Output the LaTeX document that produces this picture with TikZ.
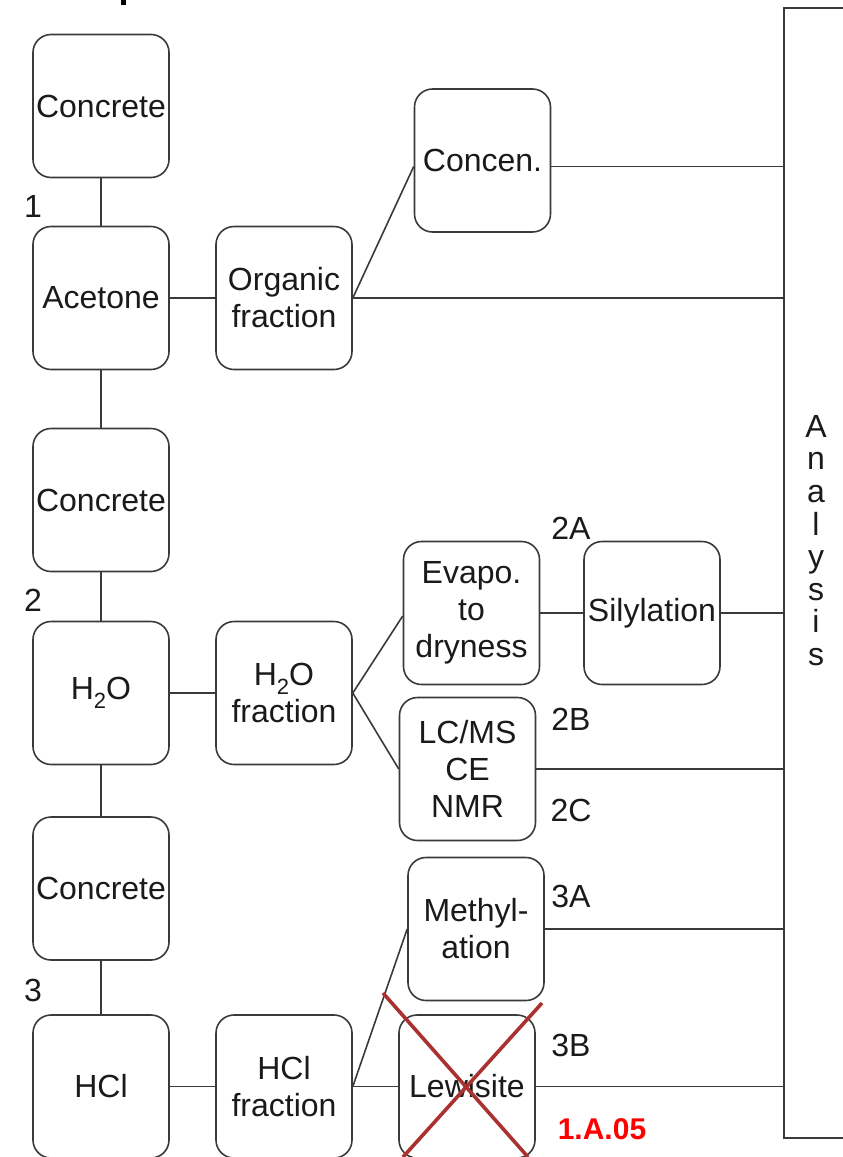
\documentclass[tikz,border=0pt]{standalone}
\usepackage{fontspec}
\setmainfont{Liberation Sans}
\usetikzlibrary{calc}
\definecolor{linec}{HTML}{3A3A3A}
\definecolor{textc}{HTML}{1A1A1A}
\definecolor{crossc}{HTML}{A93230}
\definecolor{redlbl}{HTML}{FF0000}
\newcommand{\subtwo}{\raisebox{-0.28em}{\fontsize{22}{22}\selectfont 2}}
\tikzset{
  box/.style={draw=linec, line width=1.6pt, rounded corners=18pt,
    minimum width=136pt, minimum height=143pt, inner sep=0pt,
    align=center, text=textc, font=\fontsize{32}{37}\selectfont},
  conn/.style={draw=linec, line width=1.6pt},
  lbl/.style={text=textc, inner sep=0pt, font=\fontsize{32}{37}\selectfont},
  cross/.style={draw=crossc, line width=3.6pt}
}
\begin{document}
\begin{tikzpicture}[x=1pt,y=-1pt]
\useasboundingbox (0,0) rectangle (843,1157);
% cut-off fragment at top
\fill[black] (121,0) rectangle (126,5);
% Analysis bar
\node[draw=linec, line width=1.6pt, minimum width=90pt, minimum height=1130pt, inner sep=0pt, anchor=north west] (bar) at (783,7) {};
\node[lbl, anchor=north, align=center, font=\fontsize{32}{32.6}\selectfont] (ana) at (816,415) {A\\n\\a\\l\\y\\s\\i\\s};
% left column
\node[box] (c1) at (101,106) {Concrete};
\node[box] (ac) at (101,298) {Acetone};
\node[box] (c2) at (101,500) {Concrete};
\node[box] (h2o) at (101,693) {H\subtwo O};
\node[box] (c3) at (101,888.5) {Concrete};
\node[box] (hcl) at (101,1086.5) {HCl};
% second column
\node[box] (org) at (284,298) {Organic\\fraction};
\node[box] (h2of) at (284,693) {H\subtwo O\\fraction};
\node[box] (hclf) at (284,1086.5) {HCl\\fraction};
% third column
\node[box] (conc) at (482.5,160.5) {Concen.};
\node[box] (evap) at (471.5,613) {Evapo.\\to\\dryness};
\node[box] (lcms) at (467.5,769) {LC/MS\\CE\\NMR};
\node[box] (meth) at (476,929) {Methyl-\\ation};
\node[box] (lew) at (467,1086.5) {Lewisite};
\node[box] (sil) at (652,613) {Silylation};
% labels
\node[lbl] (l1) at (33,206) {1};
\node[lbl] (l2) at (33,600) {2};
\node[lbl] (l3) at (33,990) {3};
\node[lbl] (l2a) at (571,528) {2A};
\node[lbl] (l2b) at (571,719) {2B};
\node[lbl] (l2c) at (571,810) {2C};
\node[lbl] (l3a) at (571,896) {3A};
\node[lbl] (l3b) at (571,1045) {3B};
\node[inner sep=0pt, text=redlbl, font=\fontsize{30}{30}\selectfont\bfseries] (code) at (602,1129) {1.A.05};
% vertical connectors
\draw[conn] (c1.south) -- (ac.north);
\draw[conn] (ac.south) -- (c2.north);
\draw[conn] (c2.south) -- (h2o.north);
\draw[conn] (h2o.south) -- (c3.north);
\draw[conn] (c3.south) -- (hcl.north);
% horizontal
\draw[conn] (ac.east) -- (org.west);
\draw[conn] (h2o.east) -- (h2of.west);
\draw[conn] (hcl.east) -- (hclf.west);
\draw[conn] (org.east) -- ([yshift=-6pt]conc.west);
\draw[conn] (h2of.east) -- ([yshift=-3pt]evap.west);
\draw[conn] (h2of.east) -- (lcms.west);
\draw[conn] (hclf.east) -- (meth.west);
\draw[conn] (hclf.east) -- (lew.west);
\draw[conn] (evap.east |- sil.west) -- (sil.west);
% to analysis
\draw[conn] ([yshift=-6pt]conc.east) -- ([yshift=-6pt]conc.east -| bar.west);
\draw[conn] (org.east) -- (org.east -| bar.west);
\draw[conn] (sil.east) -- (sil.east -| bar.west);
\draw[conn] (lcms.east) -- (lcms.east -| bar.west);
\draw[conn] (meth.east) -- (meth.east -| bar.west);
\draw[conn] (lew.east) -- (lew.east -| bar.west);
% red cross
\draw[cross] ($(lew.center)+(-84,-93.5)$) -- ($(lew.center)+(61,70.5)$);
\draw[cross] ($(lew.center)+(75,-83.5)$) -- ($(lew.center)+(-64,70.5)$);
\end{tikzpicture}
\end{document}
